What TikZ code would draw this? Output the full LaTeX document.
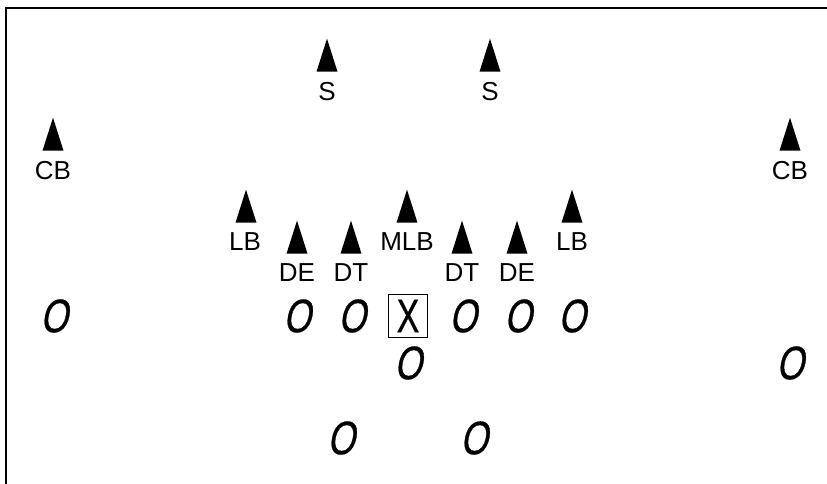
\documentclass[tikz,border=0pt]{standalone}
\usepackage{fontspec}
\setmainfont{Liberation Sans}
\newfontfamily\playerfont[FakeSlant=0.2,FakeStretch=0.75,FakeBold=0.6]{Liberation Sans}
\newfontfamily\centerfont[FakeStretch=0.72,FakeBold=0.6]{Liberation Sans}
\usetikzlibrary{positioning,shapes.geometric}
\tikzset{
  defender/.style={isosceles triangle, isosceles triangle stretches, shape border rotate=90,
    fill=black, draw=none, minimum width=21pt, minimum height=33pt, inner sep=0pt},
  poslabel/.style={font=\fontsize{26}{28}\selectfont, inner sep=0pt},
  offense/.style={font=\playerfont\fontsize{47}{50}\selectfont, inner sep=0pt},
  centerbox/.style={font=\centerfont\fontsize{47}{50}\selectfont, draw, line width=1.3pt,
    minimum width=39pt, minimum height=43pt, inner sep=0pt}
}
\begin{document}
\begin{tikzpicture}[x=1pt,y=-1pt]
  \useasboundingbox (0,0) rectangle (827,484);
  \draw[line width=2pt] (6,484) -- (6,8) -- (827,8);
  % secondary
  \node[defender] (s1) at (327,64) {};
  \node[defender] (s2) at (490,64) {};
  \node[defender] (cb1) at (53,143) {};
  \node[defender] (cb2) at (790,143) {};
  \node[poslabel, below=10.5pt of s1] (s1lbl) {S};
  \node[poslabel, below=10.5pt of s2] (s2lbl) {S};
  \node[poslabel, below=10.5pt of cb1] (cb1lbl) {CB};
  \node[poslabel, below=10.5pt of cb2] (cb2lbl) {CB};
  % linebackers
  \node[defender] (lb1) at (246,215) {};
  \node[defender] (mlb) at (407,215) {};
  \node[defender] (lb2) at (572,215) {};
  \node[poslabel, below=10pt of lb1, xshift=-1pt] (lb1lbl) {LB};
  \node[poslabel, below=10pt of mlb] (mlblbl) {MLB};
  \node[poslabel, below=10pt of lb2] (lb2lbl) {LB};
  % line
  \node[defender] (de1) at (297,246) {};
  \node[defender] (dt1) at (351,246) {};
  \node[defender] (dt2) at (462,246) {};
  \node[defender] (de2) at (517,246) {};
  \node[poslabel, below=10pt of de1] (de1lbl) {DE};
  \node[poslabel, below=10pt of dt1] (dt1lbl) {DT};
  \node[poslabel, below=10pt of dt2] (dt2lbl) {DT};
  \node[poslabel, below=10pt of de2] (de2lbl) {DE};
  % offense
  \node[centerbox] (c) at (408,316) {X};
  \node[offense] (wr1) at (54,316) {O};
  \node[offense] (lt) at (297,316) {O};
  \node[offense] (lg) at (352,316) {O};
  \node[offense] (rg) at (463,316) {O};
  \node[offense] (rt) at (518,316) {O};
  \node[offense] (te) at (572,316) {O};
  \node[offense] (qb) at (408,363) {O};
  \node[offense] (wr2) at (790,363) {O};
  \node[offense] (rb1) at (341,438) {O};
  \node[offense] (rb2) at (474,438) {O};
\end{tikzpicture}
\end{document}
